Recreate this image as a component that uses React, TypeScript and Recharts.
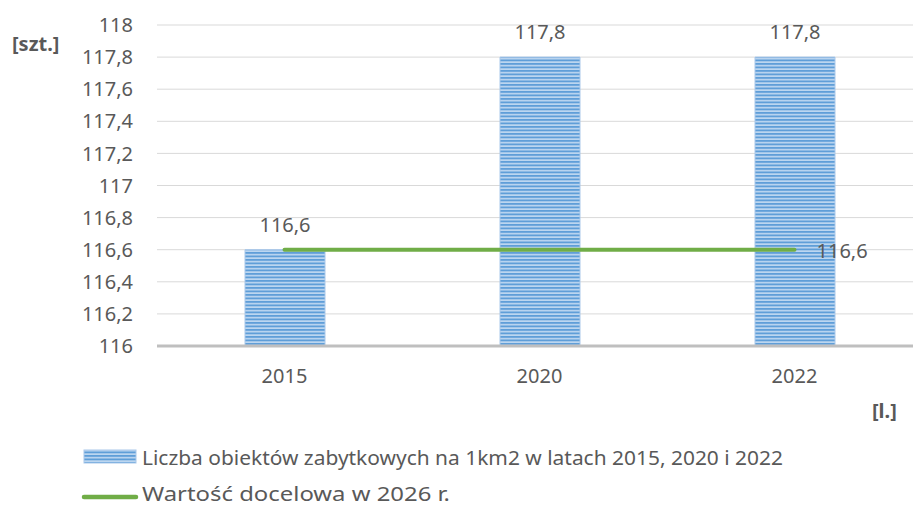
import React from 'react';
import { ComposedChart, Bar, Line, XAxis, YAxis, CartesianGrid, LabelList } from 'recharts';

const categories = ['2015', '2020', '2022'];
const objectCounts = [116.6, 117.8, 117.8];
const targetValues = [116.6, 116.6, 116.6];
const yTicks = [116, 116.2, 116.4, 116.6, 116.8, 117, 117.2, 117.4, 117.6, 117.8, 118];
const barSeriesName = 'Liczba obiektów zabytkowych na 1km2 w latach 2015, 2020 i 2022';
const lineSeriesName = 'Wartość docelowa w 2026 r.';
const yUnit = '[szt.]';
const xUnit = '[l.]';

const data = categories.map((c, i) => ({ year: c, count: objectCounts[i], target: targetValues[i] }));

const fmt = (v: number) => {
  const s = (Math.round(v * 10) / 10).toFixed(1);
  return (s.endsWith('.0') ? s.slice(0, -2) : s).replace('.', ',');
};

const FONT = '"Noto Sans", "Open Sans", sans-serif';
const GRAY = '#595959';

const LineEndLabel = (props: any) => {
  const { x, y, value, index } = props;
  if (index !== targetValues.length - 1) return null;
  return (
    <text x={x + 22} y={y + 1} dominantBaseline="central" textAnchor="start" fill={GRAY} fontSize={20} fontFamily={FONT}>
      {fmt(value)}
    </text>
  );
};

export default function App() {
  return (
    <div style={{ position: 'fixed', left: 0, top: 0, width: 913, height: 506, overflow: 'hidden', background: '#fff' }}>
      <svg width={0} height={0} style={{ position: 'absolute' }}>
        <defs>
          <pattern id="stripes" patternUnits="userSpaceOnUse" width={8} height={3.5}>
            <rect x={0} y={0} width={8} height={3.5} fill="#bcd6f0" />
            <rect x={0} y={0} width={8} height={1.8} fill="#5f9ed8" />
          </pattern>
        </defs>
      </svg>
      <ComposedChart
        width={922}
        height={506}
        data={data}
        margin={{ top: 25, right: 0, bottom: 0, left: 0 }}
        style={{ position: 'absolute', left: 0, top: 0 }}
      >
        <CartesianGrid vertical={false} stroke="#d9d9d9" strokeWidth={1} />
        <XAxis
          dataKey="year"
          height={160}
          tickLine={false}
          tickSize={0}
          tickMargin={23}
          axisLine={{ stroke: '#bfbfbf', strokeWidth: 3 }}
          tick={{ fill: GRAY, fontSize: 20, fontFamily: FONT }}
        />
        <YAxis
          width={157}
          domain={[116, 118]}
          ticks={yTicks}
          tickFormatter={fmt}
          tickLine={false}
          tickSize={0}
          tickMargin={24}
          axisLine={false}
          tick={{ fill: GRAY, fontSize: 20, fontFamily: FONT }}
          allowDataOverflow
        />
        <Bar dataKey="count" barSize={80} fill="url(#stripes)" stroke="#a9c8ea" strokeWidth={1} isAnimationActive={false}>
          <LabelList
            dataKey="count"
            position="top"
            offset={18}
            formatter={(v: any) => fmt(Number(v))}
            style={{ fill: GRAY, fontSize: 20, fontFamily: FONT }}
          />
        </Bar>
        <Line
          dataKey="target"
          stroke="#70ad47"
          strokeWidth={4}
          strokeLinecap="round"
          dot={false}
          activeDot={false}
          isAnimationActive={false}
        >
          <LabelList dataKey="target" content={LineEndLabel} />
        </Line>
      </ComposedChart>
      <svg width={913} height={506} style={{ position: 'absolute', left: 0, top: 0, pointerEvents: 'none' }}>
        <text x={12} y={43} dominantBaseline="central" fill={GRAY} fontSize={20} fontWeight="bold" fontFamily={FONT}>
          {yUnit}
        </text>
        <text x={872} y={410} dominantBaseline="central" fill={GRAY} fontSize={20} fontWeight="bold" fontFamily={FONT}>
          {xUnit}
        </text>
        <rect x={84} y={450} width={52} height={13} fill="url(#stripes)" stroke="#a9c8ea" strokeWidth={1} />
        <text x={142} y={457} dominantBaseline="central" fill={GRAY} fontSize={20} fontFamily={FONT} textLength={641} lengthAdjust="spacingAndGlyphs">
          {barSeriesName}
        </text>
        <line x1={84} y1={497} x2={136} y2={497} stroke="#70ad47" strokeWidth={4.5} strokeLinecap="round" />
        <text x={142} y={494} dominantBaseline="central" fill={GRAY} fontSize={19} fontFamily={FONT} textLength={308} lengthAdjust="spacingAndGlyphs">
          {lineSeriesName}
        </text>
      </svg>
    </div>
  );
}
